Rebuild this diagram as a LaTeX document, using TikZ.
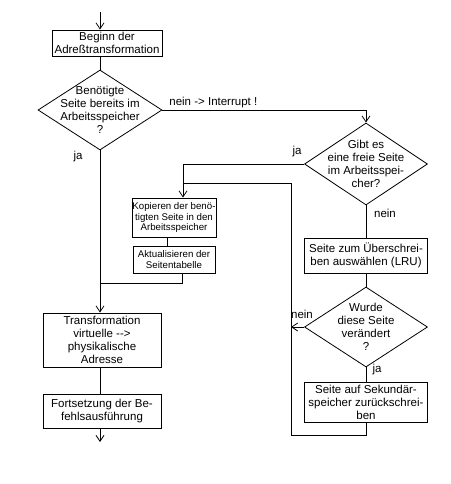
\documentclass[tikz,border=0pt]{standalone}
\usepackage{fontspec}
\setmainfont{Liberation Sans}
\usetikzlibrary{shapes,arrows,positioning,calc,arrows.meta}

\begin{document}
\begin{tikzpicture}[x=1pt, y=-1pt, line width=0.8pt,
    box/.style={rectangle, draw, align=center, inner sep=0pt, font=\fontsize{11.5}{13}\selectfont},
    smallbox/.style={box, font=\fontsize{9.7}{10.5}\selectfont},
    decision/.style={diamond, draw, inner sep=0pt},
    qtext/.style={align=center, inner sep=0pt, font=\fontsize{11.5}{13}\selectfont},
    lbl/.style={font=\fontsize{11.5}{13}\selectfont, inner sep=1pt},
    flow/.style={-{Straight Barb[length=6pt,width=8pt]}}]
    \useasboundingbox (0,0) rectangle (450,484);
    % steps and decisions
    \node (start) [box, minimum width=110pt, minimum height=26pt] at (107,43) {Beginn der\\Adreßtransformation};
    \node (q1) [decision, minimum width=124pt, minimum height=80pt, label={[qtext]center:{Benötigte\\Seite bereits im\\Arbeitsspeicher\\?}}] at (100,110) {};
    \node (q2) [decision, minimum width=123pt, minimum height=82pt, label={[qtext]center:{Gibt es\\eine freie Seite\\im Arbeitsspei-\\cher?}}] at (366,164) {};
    \node (copy) [smallbox, minimum width=84pt, minimum height=39pt] at (174,217.5) {Kopieren der benö-\\tigten Seite in den\\Arbeitsspeicher};
    \node (update) [smallbox, minimum width=82pt, minimum height=27pt] at (174,259.5) {Aktualisieren der\\Seitentabelle};
    \node (select) [box, minimum width=123pt, minimum height=35pt] at (366,255.5) {Seite zum Überschrei-\\ben auswählen (LRU)};
    \node (q3) [decision, minimum width=123pt, minimum height=80pt, label={[qtext]center:{Wurde\\diese Seite\\verändert\\?}}] at (366,327) {};
    \node (write) [box, minimum width=123pt, minimum height=40pt] at (366,402) {Seite auf Sekundär-\\speicher zurückschrei-\\ben};
    \node (trans) [box, minimum width=118pt, minimum height=54pt] at (102,340) {Transformation\\virtuelle -{}-{}>\\physikalische\\Adresse};
    \node (cont) [box, minimum width=118pt, minimum height=34pt] at (102,411) {Fortsetzung der Be-\\fehlsausführung};
    % branch labels
    \node (ja1) [lbl] at (78,157) {ja};
    \node (int) [lbl, anchor=south west] at (168,109) {nein -> Interrupt !};
    \node (ja2) [lbl] at (297,152) {ja};
    \node (nein2) [lbl] at (385,213) {nein};
    \node (nein3) [lbl] at (302,314) {nein};
    \node (ja3) [lbl] at (377,370) {ja};
    % bends of the connectors
    \coordinate (in) at (100,12);
    \coordinate (out) at (100,442);
    \coordinate (merge) at (100,283);
    \coordinate (join) at (183,183);
    \coordinate (back) at (291,435);
    % connectors
    \draw[flow] (in) -- (in |- start.north);
    \draw (start.south -| q1.north) -- (q1.north);
    \draw[flow] (q1.south) -- (q1.south |- trans.north);
    \draw[flow] (q1.east) -| (q2.north);
    \draw[flow] (q2.west) -| (join |- copy.north);
    \draw ([xshift=-7pt]copy.south) -- ([xshift=-7pt]update.north);
    \draw ([xshift=8pt]update.south) |- (merge);
    \draw (q2.south) -- (select.north);
    \draw (select.south) -- (q3.north);
    \draw (q3.south) -- (write.north);
    \draw (write.south) |- (back) |- (join);
    \draw[flow] (q3.west) -- (q3.west -| back);
    \draw (trans.south -| out) -- (cont.north -| out);
    \draw[flow] (cont.south -| out) -- (out);
\end{tikzpicture}
\end{document}
